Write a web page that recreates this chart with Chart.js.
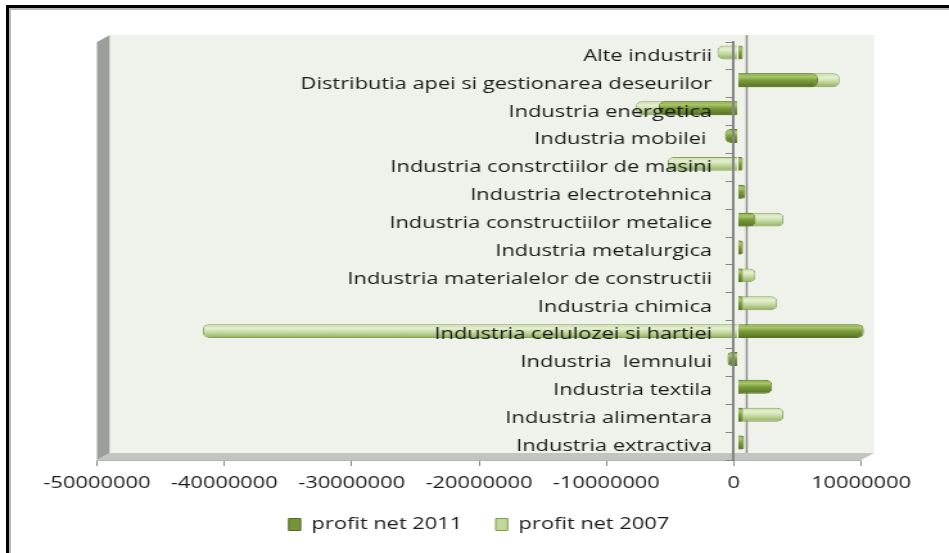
<!DOCTYPE html>
<html>
<head>
<meta charset="utf-8">
<script src="https://cdn.jsdelivr.net/npm/chart.js@4.4.1/dist/chart.umd.min.js"></script>
<style>
  html, body { margin:0; padding:0; background:#fff; }
  #quadro { position:absolute; left:6px; top:5px; width:943px; height:548px; border-left:3px solid #000; border-top:3px solid #000; box-shadow: inset 2px 2px 0 #b8b8b8; }
  #grafico { position:absolute; left:0; top:0; }
</style>
</head>
<body>
<div id="quadro"></div>
<canvas id="grafico"></canvas>
<script>
    // Dados (de cima para baixo)
    const categorias = [
      "Alte industrii",
      "Distributia apei si gestionarea deseurilor",
      "Industria energetica",
      "Industria mobilei ",
      "Industria constrctiilor de masini",
      "Industria electrotehnica",
      "Industria constructiilor metalice",
      "Industria metalurgica",
      "Industria materialelor de constructii",
      "Industria chimica",
      "Industria celulozei si hartiei",
      "Industria  lemnului",
      "Industria textila",
      "Industria alimentara",
      "Industria extractiva"
    ];
    const profit2011 = [200000, 6300000, -6200000, -1000000, 200000, 600000, 1400000, 400000, 300000, 200000, 9900000, -800000, 2700000, 300000, 500000];
    const profit2007 = [-1600000, 8000000, -8000000, -500000, -5500000, 200000, 3600000, 100000, 1400000, 3100000, -42000000, -400000, 500000, 3600000, 200000];
    const ticksX = [-50000000, -40000000, -30000000, -20000000, -10000000, 0, 10000000];

    // a imagem original esta esticada na horizontal
    const S = 1.285;
    const canvas = document.getElementById('grafico');
    canvas.width = Math.round(949 / S);
    canvas.height = 553;
    canvas.style.width = '949px';
    canvas.style.height = '553px';

    const BAR = 0.5;
    const fonte = { family: 'Open Sans', size: 17 };

    function cilindro(paradas) {
      return c => {
        const ch = c.chart, ys = ch.scales.y, area = ch.chartArea;
        if (c.type !== 'data' || !ys || !area) return paradas[2][1];
        const meio = ys.getPixelForValue(c.dataIndex);
        const meia = (area.bottom - area.top) / categorias.length * BAR / 2;
        const g = ch.ctx.createLinearGradient(0, meio - meia, 0, meio + meia);
        paradas.forEach(([p, cor]) => g.addColorStop(p, cor));
        return g;
      };
    }

    const paredes3d = {
      id: 'paredes3d',
      beforeDraw(ch) {
        const { ctx, chartArea: a } = ch;
        const dx = 13 / S, dy = -7;
        ctx.save();
        // parede lateral
        ctx.fillStyle = '#9c9e99';
        ctx.beginPath();
        ctx.moveTo(a.left, a.top); ctx.lineTo(a.left + dx, a.top + dy);
        ctx.lineTo(a.left + dx, a.bottom + dy); ctx.lineTo(a.left, a.bottom);
        ctx.closePath(); ctx.fill();
        // parede do fundo
        ctx.fillStyle = '#eff2ea';
        ctx.fillRect(a.left + dx, a.top + dy, a.right - a.left, a.bottom - a.top);
        // chao
        ctx.fillStyle = '#c2c4bf';
        ctx.beginPath();
        ctx.moveTo(a.left, a.bottom); ctx.lineTo(a.left + dx, a.bottom + dy);
        ctx.lineTo(a.right + dx, a.bottom + dy); ctx.lineTo(a.right, a.bottom);
        ctx.closePath(); ctx.fill();
        // linha do zero no fundo
        const x0 = ch.scales.x.getPixelForValue(0) + dx;
        ctx.strokeStyle = '#8c8c8c';
        ctx.lineWidth = 1.5;
        ctx.beginPath(); ctx.moveTo(x0, a.top + dy); ctx.lineTo(x0, a.bottom + dy); ctx.stroke();
        ctx.restore();
      },
      beforeDatasetsDraw(ch) { ch.ctx.save(); ch.ctx.translate(4 / S, -3.5); },
      afterDatasetsDraw(ch) { ch.ctx.restore(); }
    };

    const coresLegenda = ['#77933c', '#c3d69b'];
    const bordasLegenda = ['#4f6b1f', '#7f9f4a'];

    new Chart(canvas, {
      type: 'bar',
      data: {
        labels: categorias,
        datasets: [{
          label: 'profit net 2011',
          data: profit2011,
          backgroundColor: cilindro([[0, '#86a646'], [0.25, '#a8c768'], [0.5, '#7d9c3d'], [0.85, '#5f7e28'], [1, '#4d6a1d']]),
          borderColor: '#5a7726',
          borderWidth: 1
        }, {
          label: 'profit net 2007',
          data: profit2007,
          backgroundColor: cilindro([[0, '#c9dca6'], [0.3, '#e4efd0'], [0.6, '#c4d89f'], [0.9, '#9db86d'], [1, '#86a45a']]),
          borderColor: '#85a35a',
          borderWidth: 1
        }]
      },
      options: {
        indexAxis: 'y',
        responsive: false,
        animation: false,
        layout: { padding: { left: 97 / S, right: 88 / S, top: 42, bottom: 10 } },
        datasets: { bar: { grouped: false, categoryPercentage: 1, barPercentage: BAR, borderRadius: 5, borderSkipped: 'start', minBarLength: 4 } },
        scales: {
          x: {
            type: 'linear',
            min: -50000000, max: 10000000,
            afterBuildTicks: sc => { sc.ticks = ticksX.map(v => ({ value: v })); },
            afterFit: sc => { sc.height = 30; },
            ticks: { font: fonte, color: '#1a1a1a', padding: 7, callback: v => String(v), maxRotation: 0 },
            grid: { drawOnChartArea: false, drawTicks: true, tickLength: 6, color: '#868686' },
            border: { color: '#b4b6b0', width: 1 }
          },
          // eixo vertical no zero: linha e tracos
          y: {
            type: 'category',
            position: { x: 0 },
            ticks: { display: false },
            grid: { drawOnChartArea: false, drawTicks: true, tickLength: 5, color: '#868686', z: 1 },
            border: { color: '#868686', width: 2, z: 1 }
          },
          // rotulos das categorias, junto ao eixo
          yRotulos: {
            type: 'category',
            axis: 'y',
            offset: true,
            position: { x: -1700000 },
            ticks: { font: fonte, color: '#1a1a1a', z: 1 },
            grid: { display: false },
            border: { display: false }
          }
        },
        plugins: {
          legend: {
            position: 'bottom',
            labels: {
              font: fonte, color: '#1a1a1a', boxWidth: 12 / S, boxHeight: 12, padding: 26,
              generateLabels: ch => Chart.defaults.plugins.legend.labels.generateLabels(ch).map((it, i) =>
                Object.assign(it, { fillStyle: coresLegenda[i], strokeStyle: bordasLegenda[i], lineWidth: 1 }))
            }
          },
          tooltip: { enabled: false }
        }
      },
      plugins: [paredes3d]
    });
</script>
</body>
</html>
